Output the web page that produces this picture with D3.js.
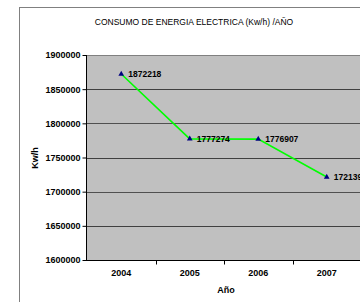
<!DOCTYPE html>
<html lang="es">
<head>
    <meta charset="UTF-8">
    <title>Consumo de energia</title>
    <script src="https://cdn.jsdelivr.net/npm/d3@7"></script>
    <style>
        body{margin:0;background:#fff;}
        text{font-family:"Liberation Sans",Arial,sans-serif;}
    </style>
</head>
<body>
    <svg></svg>
    <script>
        // data
        var years = ["2004","2005","2006","2007"];
        var consumo = [1872218, 1777274, 1776907, 1721390];
        var yTicks = [1600000,1650000,1700000,1750000,1800000,1850000,1900000];

        var W = 360, H = 302;
        var svg = d3.select("svg").attr("width",W).attr("height",H);

        var plot = {left:87, top:55, right:361, bottom:260};

        // outer chart frame
        svg.append("rect")
            .attr("x",19.5).attr("y",7.5)
            .attr("width",360).attr("height",320)
            .attr("fill","#fff").attr("stroke","#808080");

        var x = d3.scaleBand().domain(years).range([plot.left,plot.right]);
        var y = d3.scaleLinear().domain([1600000,1900000]).range([plot.bottom,plot.top]);

        // plot background
        svg.append("rect")
            .attr("x",plot.left).attr("y",plot.top)
            .attr("width",plot.right-plot.left).attr("height",plot.bottom-plot.top)
            .attr("fill","#c0c0c0");

        // gridlines
        svg.append("g").selectAll("line")
            .data(yTicks.slice(1))
            .enter().append("line")
            .attr("x1",plot.left).attr("x2",plot.right)
            .attr("y1",d=>Math.round(y(d))+0.5).attr("y2",d=>Math.round(y(d))+0.5)
            .attr("stroke",function(d,i){ return i%2==0 ? "#404040" : "#505050"; })
            .attr("stroke-width",1);
        svg.append("line")
            .attr("x1",plot.left).attr("x2",plot.right)
            .attr("y1",plot.top+0.5).attr("y2",plot.top+0.5)
            .attr("stroke","#808080");

        // y axis
        var yAxis = svg.append("g")
            .attr("transform","translate("+(plot.left-0.5)+",0)")
            .call(d3.axisLeft(y).tickValues(yTicks).tickSize(4).tickPadding(2).tickFormat(d3.format("d")));
        yAxis.selectAll("text").attr("font-size",9).attr("font-weight","bold").attr("fill","#000").attr("font-family","Liberation Sans, Arial, sans-serif");
        yAxis.selectAll("line,path").attr("stroke","#000");
        yAxis.select("path").attr("d","M0,"+plot.top+"V"+(plot.bottom+0.5));

        // x axis
        var xAxis = svg.append("g")
            .attr("transform","translate(0,"+(plot.bottom+0.5)+")");
        xAxis.append("line")
            .attr("x1",plot.left-4).attr("x2",plot.right)
            .attr("stroke","#000");
        xAxis.selectAll(".tk")
            .data(years.slice(1))
            .enter().append("line")
            .attr("x1",d=>Math.round(x(d))+0.5).attr("x2",d=>Math.round(x(d))+0.5)
            .attr("y1",0).attr("y2",4)
            .attr("stroke","#000");
        xAxis.selectAll("text")
            .data(years)
            .enter().append("text")
            .attr("x",d=>x(d)+x.bandwidth()/2)
            .attr("y",15)
            .attr("text-anchor","middle")
            .attr("font-size",9).attr("font-weight","bold")
            .text(d=>d);

        // line
        var pts = years.map(function(yr,i){ return {year:yr, v:consumo[i]}; });
        var line = d3.line()
            .x(d=>x(d.year)+x.bandwidth()/2)
            .y(d=>y(d.v));
        svg.append("path")
            .datum(pts)
            .attr("d",line)
            .attr("fill","none")
            .attr("stroke","#00ff00")
            .attr("stroke-width",1.6);

        // triangle markers
        svg.append("g").selectAll("path")
            .data(pts)
            .enter().append("path")
            .attr("d",d3.symbol().type(d3.symbolTriangle).size(14))
            .attr("transform",d=>"translate("+(x(d.year)+x.bandwidth()/2)+","+y(d.v)+")")
            .attr("fill","#000080");

        // value labels
        svg.append("g").selectAll("text")
            .data(pts)
            .enter().append("text")
            .attr("x",d=>x(d.year)+x.bandwidth()/2+7)
            .attr("y",d=>y(d.v)+3)
            .attr("font-size",8.5).attr("font-weight","bold")
            .text(d=>d.v);

        // titles
        svg.append("text")
            .attr("x",194).attr("y",25)
            .attr("text-anchor","middle")
            .attr("font-size",8.5)
            .text("CONSUMO DE ENERGIA ELECTRICA (Kw/h) /AÑO");
        svg.append("text")
            .attr("transform","translate(38,158) rotate(-90)")
            .attr("text-anchor","middle")
            .attr("font-size",9).attr("font-weight","bold")
            .text("Kw/h");
        svg.append("text")
            .attr("x",226).attr("y",293)
            .attr("text-anchor","middle")
            .attr("font-size",9).attr("font-weight","bold")
            .text("Año");
    </script>
</body>
</html>
